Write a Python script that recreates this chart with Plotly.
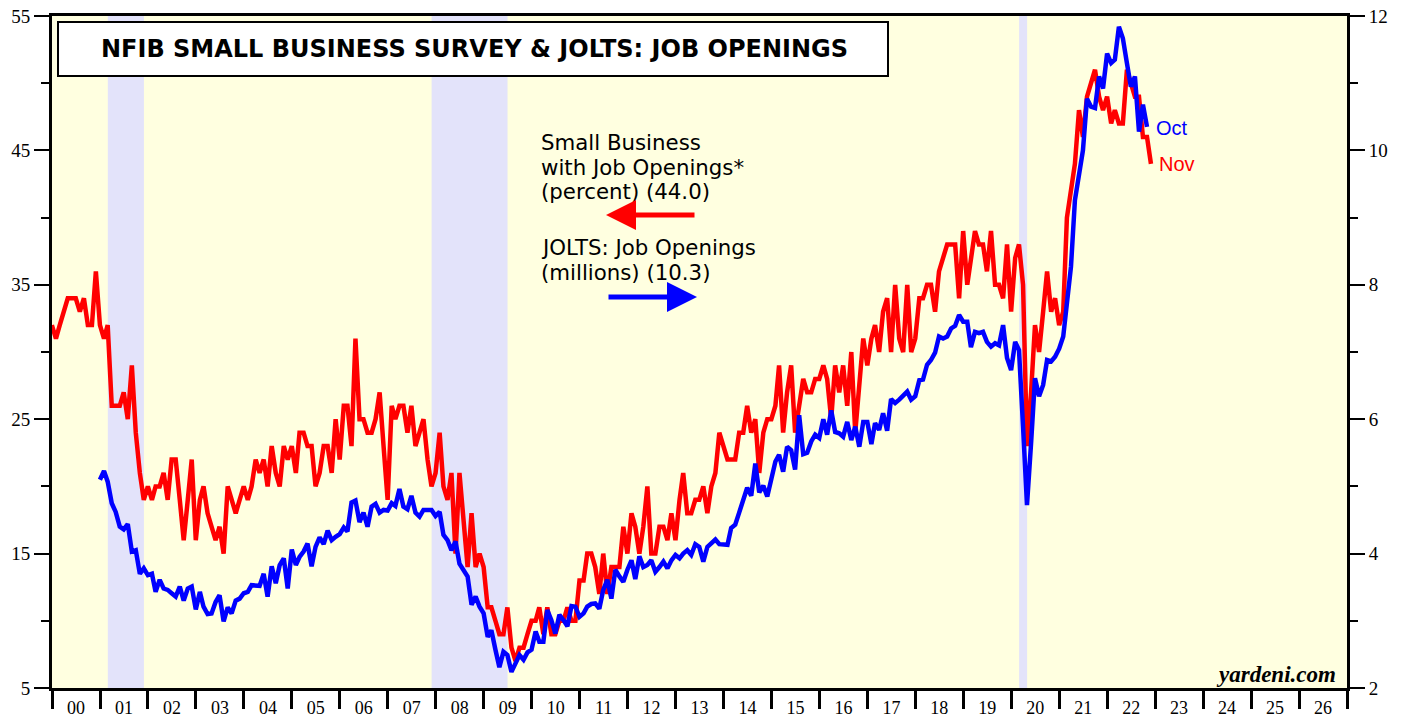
import pandas as pd
import plotly.graph_objects as go

# ---------------- data ----------------
# NFIB: percent of small businesses with job openings, month-end Dec 1999 .. Nov 2022
nfib_start = "1999-12-31"
nfib_values = [
    32, 31, 32, 33, 34, 34, 34, 33, 34, 32, 32, 36,
    32, 31, 32, 26, 26, 26, 27, 25, 29, 24, 21, 19,
    20, 19, 20, 20, 21, 19, 22, 22, 19, 16, 19, 22,
    16, 19, 20, 18, 17, 16, 17, 15, 20, 19, 18, 19,
    20, 19, 20, 22, 21, 22, 20, 23, 21, 20, 23, 22,
    23, 21, 24, 24, 23, 23, 20, 21, 23, 23, 21, 25,
    22, 26, 26, 23, 31, 25, 25, 24, 24, 25, 27, 23,
    19, 26, 25, 26, 26, 24, 26, 23, 24, 25, 22, 20,
    21, 24, 20, 19, 21, 15, 21, 17, 14, 18, 14, 15,
    14, 11, 11, 10, 9, 9, 11, 8, 7, 8, 8, 9,
    10, 10, 11, 9, 11, 9, 9, 10, 10, 11, 10, 10,
    13, 13, 15, 15, 14, 12, 15, 12, 14, 14, 14, 17,
    15, 18, 17, 15, 17, 20, 15, 15, 17, 17, 16, 18,
    16, 19, 21, 18, 18, 19, 19, 20, 18, 20, 21, 24,
    23, 22, 22, 22, 24, 24, 26, 24, 25, 21, 24, 25,
    25, 26, 29, 24, 27, 29, 24, 26, 28, 27, 27, 28,
    28, 29, 28, 25, 29, 27, 29, 26, 30, 24, 28, 31,
    29, 31, 32, 30, 33, 34, 30, 35, 31, 30, 35, 30,
    31, 34, 34, 35, 35, 33, 36, 37, 38, 38, 38, 34,
    39, 35, 37, 39, 38, 38, 36, 39, 35, 35, 34, 38,
    33, 37, 38, 35, 23, 27, 32, 30, 33, 36, 33, 34,
    32, 33, 40, 42, 44, 48, 46, 49, 50, 51, 49, 48,
    49, 47, 48, 47, 47, 51, 50, 49, 49, 46, 46, 44,
]

# JOLTS job openings (millions), month-end Dec 2000 .. Oct 2022
jolts_start = "2000-12-31"
jolts_values = [
    5.10, 5.23, 5.07, 4.75, 4.62, 4.40, 4.36, 4.44, 4.03, 4.05, 3.70, 3.78,
    3.68, 3.70, 3.43, 3.61, 3.48, 3.46, 3.41, 3.36, 3.51, 3.30, 3.48, 3.51,
    3.17, 3.43, 3.21, 3.10, 3.11, 3.28, 3.38, 2.99, 3.20, 3.11, 3.30, 3.33,
    3.41, 3.43, 3.53, 3.53, 3.52, 3.70, 3.36, 3.81, 3.56, 3.83, 3.93, 3.48,
    4.06, 3.83, 3.95, 4.03, 4.15, 3.81, 4.10, 4.24, 4.14, 4.34, 4.20, 4.25,
    4.29, 4.39, 4.33, 4.76, 4.79, 4.47, 4.61, 4.40, 4.70, 4.74, 4.61, 4.65,
    4.64, 4.75, 4.71, 4.96, 4.70, 4.66, 4.86, 4.61, 4.55, 4.65, 4.65, 4.65,
    4.56, 4.62, 4.28, 4.20, 4.05, 4.18, 3.85, 3.76, 3.66, 3.24, 3.36, 3.21,
    3.11, 2.76, 2.86, 2.57, 2.31, 2.54, 2.49, 2.24, 2.37, 2.49, 2.42, 2.53,
    2.57, 2.84, 2.69, 2.69, 3.16, 3.01, 2.81, 3.09, 3.01, 2.92, 3.22, 3.21,
    3.06, 3.11, 3.21, 3.25, 3.26, 3.18, 3.46, 3.61, 3.33, 3.76, 3.66, 3.58,
    3.76, 3.90, 3.62, 3.96, 3.80, 3.83, 3.90, 3.73, 3.80, 3.88, 3.78, 3.90,
    3.98, 3.93, 4.00, 4.05, 3.98, 4.14, 4.10, 3.88, 4.10, 4.15, 4.21, 4.14,
    4.13, 4.13, 4.38, 4.43, 4.61, 4.81, 4.98, 4.86, 5.34, 4.91, 5.01, 4.85,
    5.14, 5.37, 5.47, 5.22, 5.59, 5.54, 5.25, 6.06, 5.48, 5.50, 5.67, 5.77,
    5.72, 6.00, 5.77, 6.13, 5.81, 5.79, 5.74, 5.96, 5.69, 5.89, 5.59, 5.96,
    5.96, 5.63, 5.94, 5.84, 6.09, 5.83, 6.30, 6.24, 6.29, 6.34, 6.41, 6.29,
    6.34, 6.58, 6.59, 6.81, 6.88, 6.99, 7.23, 7.20, 7.23, 7.35, 7.39, 7.55,
    7.45, 7.45, 7.07, 7.30, 7.28, 7.30, 7.15, 7.08, 7.13, 7.10, 7.40, 6.91,
    6.73, 7.15, 7.03, 5.89, 4.72, 5.64, 6.61, 6.34, 6.51, 6.88, 6.86, 6.93,
    7.05, 7.23, 7.72, 8.27, 9.26, 9.60, 10.00, 10.77, 10.65, 10.63, 11.10, 10.92,
    11.44, 11.30, 11.35, 11.84, 11.67, 11.30, 10.95, 11.10, 10.28, 10.68, 10.35,
]

recession_starts = ["2001-03-01", "2007-12-01", "2020-03-01"]
recession_ends = ["2001-12-01", "2009-07-01", "2020-05-01"]

year_labels_fmt = "%y"
title_text = "NFIB SMALL BUSINESS SURVEY & JOLTS: JOB OPENINGS"
nfib_label_lines = ["Small Business", "with Job Openings*", "(percent) (44.0)"]
jolts_label_lines = ["JOLTS: Job Openings", "(millions) (10.3)"]

nfib_dates = pd.date_range(nfib_start, periods=len(nfib_values), freq="ME")
jolts_dates = pd.date_range(jolts_start, periods=len(jolts_values), freq="ME")

# ---------------- layout helpers ----------------
W, H = 1407, 719
L, R, T, B = 52, 1347, 16, 688


def px(x):
    return (x - L) / (R - L)


def py(y):
    return (B - y) / (B - T)


RED = "#ff0000"
BLUE = "#0000ff"
SERIF = "Liberation Serif, Times New Roman, serif"
SANS = "Liberation Sans, Arial, sans-serif"
WIDE = "DejaVu Sans, Verdana, sans-serif"

fig = go.Figure()
fig.add_trace(go.Scatter(x=nfib_dates, y=nfib_values, mode="lines",
                         line=dict(color=RED, width=4.5), yaxis="y",
                         showlegend=False, hoverinfo="x+y"))
fig.add_trace(go.Scatter(x=jolts_dates, y=jolts_values, mode="lines",
                         line=dict(color=BLUE, width=4.5), yaxis="y2",
                         showlegend=False, hoverinfo="x+y"))

shapes = []
for s, e in zip(recession_starts, recession_ends):
    shapes.append(dict(type="rect", xref="x", yref="paper", x0=s, x1=e, y0=0, y1=1,
                       fillcolor="#e3e3fa", line=dict(width=0), layer="below"))
# title box
shapes.append(dict(type="rect", xref="paper", yref="paper",
                   x0=px(58), x1=px(888), y0=py(76), y1=py(22),
                   fillcolor="white", line=dict(color="black", width=2), layer="above"))

annotations = [
    dict(xref="paper", yref="paper", x=px(474), y=py(49), text="<b>%s</b>" % title_text,
         showarrow=False, xanchor="center", yanchor="middle",
         font=dict(family=WIDE, size=24, color="black")),
]
for i, line in enumerate(nfib_label_lines):
    annotations.append(dict(xref="paper", yref="paper", x=px(539), y=py(142 + 25 * i),
                            text=line, showarrow=False, xanchor="left", yanchor="middle",
                            font=dict(family=WIDE, size=21.3, color="black")))
for i, line in enumerate(jolts_label_lines):
    annotations.append(dict(xref="paper", yref="paper", x=px(539), y=py(247 + 25 * i),
                            text=line, showarrow=False, xanchor="left", yanchor="middle",
                            font=dict(family=WIDE, size=21.3, color="black")))
# arrows
annotations.append(dict(xref="paper", yref="paper", x=px(606), y=py(215), ax=90, ay=0,
                        text="", showarrow=True, arrowhead=2, arrowsize=1.2,
                        arrowwidth=5, arrowcolor=RED))
annotations.append(dict(xref="paper", yref="paper", x=px(697), y=py(297), ax=-90, ay=0,
                        text="", showarrow=True, arrowhead=2, arrowsize=1.2,
                        arrowwidth=5, arrowcolor=BLUE))
annotations.append(dict(xref="paper", yref="paper", x=px(1154), y=py(128), text="Oct",
                        showarrow=False, xanchor="left", yanchor="middle",
                        font=dict(family=SANS, size=20, color=BLUE)))
annotations.append(dict(xref="paper", yref="paper", x=px(1157), y=py(164), text="Nov",
                        showarrow=False, xanchor="left", yanchor="middle",
                        font=dict(family=SANS, size=20, color=RED)))
annotations.append(dict(xref="paper", yref="paper", x=px(1338), y=py(674),
                        text="<b><i>yardeni.com</i></b>", showarrow=False,
                        xanchor="right", yanchor="middle",
                        font=dict(family=SERIF, size=23, color="black")))

fig.update_layout(
    width=W, height=H,
    margin=dict(l=L, r=W - R, t=T, b=H - B, pad=0, autoexpand=False),
    paper_bgcolor="white", plot_bgcolor="#ffffe0",
    shapes=shapes, annotations=annotations, showlegend=False,
    xaxis=dict(type="date", range=["2000-01-01", "2027-01-01"], tick0="2000-01-01",
               dtick="M12", tickformat=year_labels_fmt, ticklabelmode="period",
               ticks="outside", ticklen=18, tickwidth=3, tickcolor="black",
               showline=True, linewidth=3, linecolor="black", mirror=True,
               showgrid=False, zeroline=False, ticklabelstandoff=-17, automargin=False,
               tickfont=dict(family=SERIF, size=18, color="black")),
    yaxis=dict(range=[5, 55], tick0=5, dtick=10, ticks="outside", ticklen=15,
               tickwidth=1.5, tickcolor="black", showline=True, linewidth=3,
               linecolor="black", showgrid=False, zeroline=False, automargin=False,
               minor=dict(dtick=5, tick0=5, ticks="outside", ticklen=8, tickwidth=1.5,
                          tickcolor="black"),
               tickfont=dict(family=SERIF, size=19, color="black")),
    yaxis2=dict(range=[2, 12], tick0=2, dtick=2, overlaying="y", side="right",
                ticks="outside", ticklen=15, tickwidth=1.5, tickcolor="black",
                showline=True, linewidth=3, linecolor="black", showgrid=False,
                zeroline=False, automargin=False,
                minor=dict(dtick=1, tick0=2, ticks="outside", ticklen=8, tickwidth=1.5,
                           tickcolor="black"),
                tickfont=dict(family=SERIF, size=19, color="black")),
)

fig.write_html("out.html", config={"displayModeBar": False},
               post_script="document.body.style.margin='0';document.body.style.overflow='hidden';")
